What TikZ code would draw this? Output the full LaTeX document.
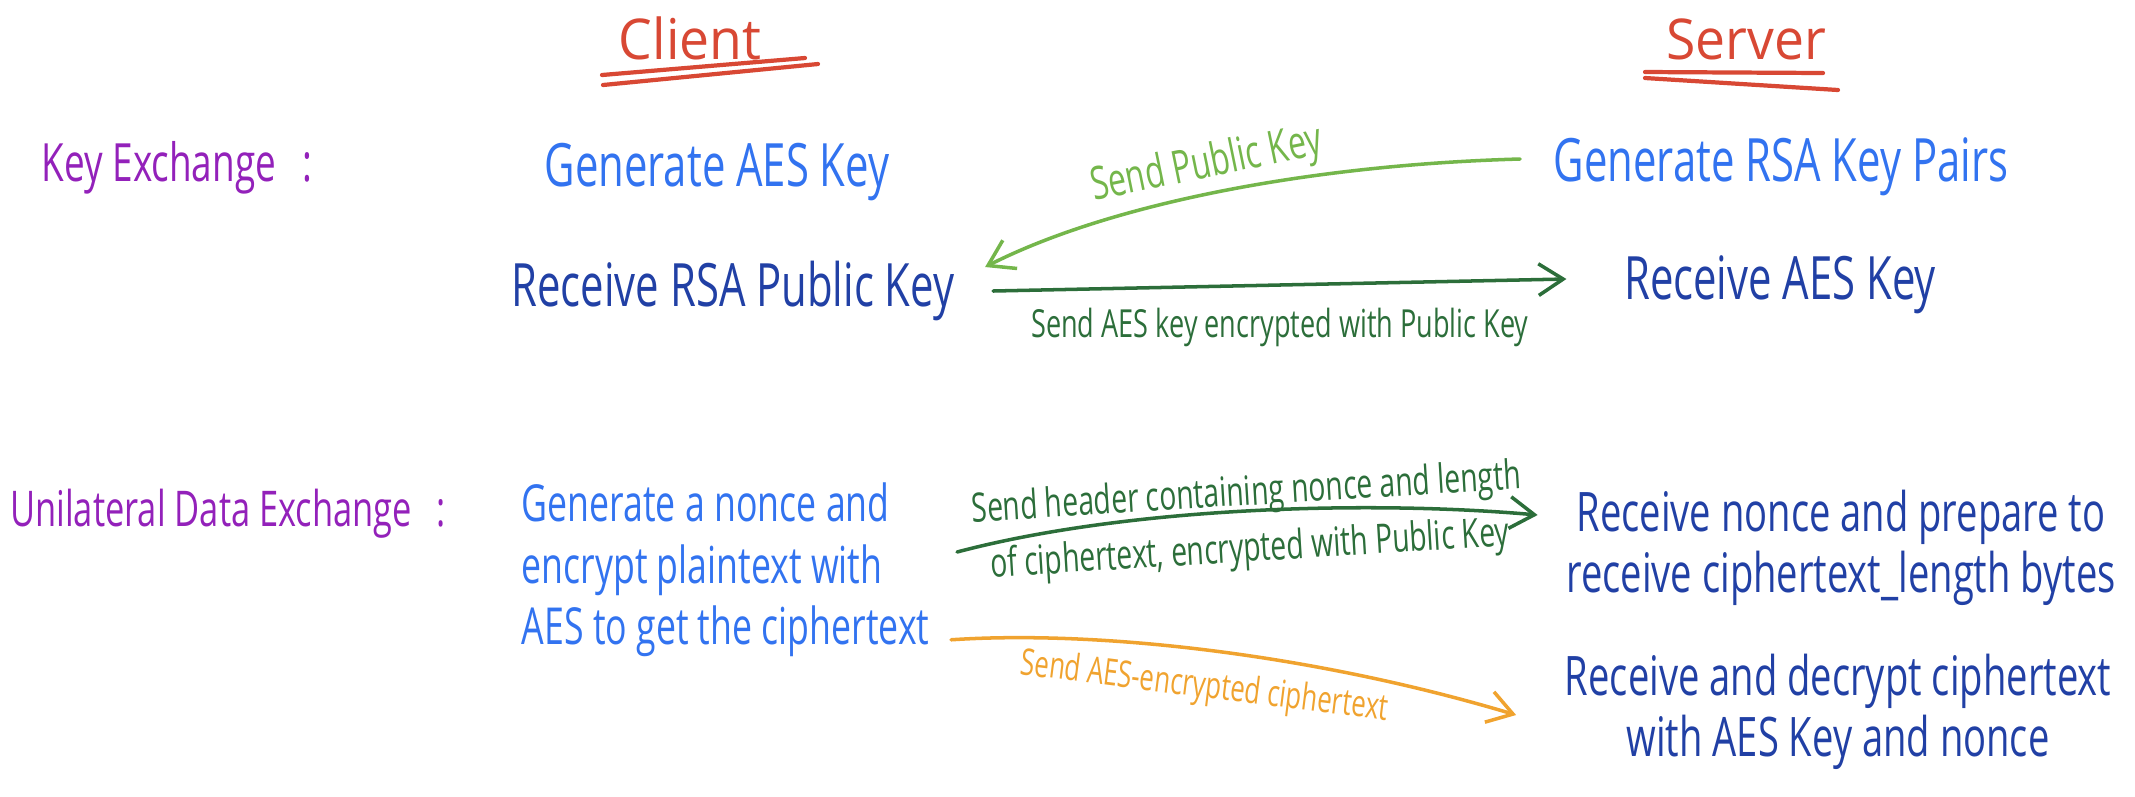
\documentclass[tikz,border=0pt]{standalone}
\usepackage{fontspec}
\setmainfont{Open Sans}[FakeStretch=0.7]
\newfontfamily\headfont{Open Sans}[FakeStretch=0.95]
\usepackage{tikz}
\usetikzlibrary{arrows.meta,positioning,calc}
\definecolor{headred}{RGB}{216,72,52}
\definecolor{rowpurple}{RGB}{147,33,186}
\definecolor{genblue}{RGB}{50,115,240}
\definecolor{recvblue}{RGB}{33,64,165}
\definecolor{pubgreen}{RGB}{116,182,75}
\definecolor{aesgreen}{RGB}{44,110,58}
\definecolor{ctorange}{RGB}{240,163,47}
\tikzset{
  basetext/.style={inner sep=2pt,align=center},
  headnode/.style={basetext,text=headred,font=\headfont\fontsize{16}{19}\selectfont},
  rownode/.style={basetext,text=rowpurple,font=\fontsize{15}{18}\selectfont},
  gennode/.style={basetext,text=genblue,font=\fontsize{17}{20}\selectfont},
  recvnode/.style={basetext,text=recvblue,font=\fontsize{17}{20}\selectfont},
  datanode/.style={basetext,font=\fontsize{15.5}{17.5}\selectfont},
  msgnode/.style={inner sep=1pt,align=center,font=\fontsize{11}{12}\selectfont},
  headrule/.style={draw=headred,line width=1.2pt,line cap=round},
  sendarr/.style={->,>={Straight Barb[length=7pt,width=9pt]},line width=1pt,line cap=round,line join=round}
}

\begin{document}
\begin{tikzpicture}[x=0.01cm,y=-0.01cm]
  \useasboundingbox (0,0) rectangle (2135,796);

  %% HEADINGS
  \node[headnode] (client) at (690,38) {Client};
  \node[headnode] (server) at (1746,39) {Server};
  \draw[headrule] ($(client.center)+(-88,37)$) -- ($(client.center)+(115,20)$);
  \draw[headrule] ($(client.center)+(-87,47)$) -- ($(client.center)+(128,26)$);
  \draw[headrule] ($(server.center)+(-101,33)$) -- ($(server.center)+(77,34)$);
  \draw[headrule] ($(server.center)+(-101,39)$) -- ($(server.center)+(92,51)$);

  %% ROW LABELS
  \node[rownode] (keyx) at (177,168) {Key Exchange\enspace:};
  \node[rownode,font=\fontsize{14}{17}\selectfont] (datax) at (228,514) {Unilateral Data Exchange\enspace:};

  %% KEY EXCHANGE
  \node[gennode] (genaes) at (717,172) {Generate AES Key};
  \node[recvnode] (recvrsa) at (733,291) {Receive RSA Public Key};
  \node[gennode] (genrsa) at (1781,167) {Generate RSA Key Pairs};
  \node[recvnode] (recvaes) at (1780,285) {Receive AES Key};

  %% DATA EXCHANGE
  \node[datanode,text=genblue,align=left,anchor=west,font=\fontsize{14.5}{17.5}\selectfont] (gennonce) at (514,570)
    {Generate a nonce and\\encrypt plaintext with\\AES to get the ciphertext};
  \node[datanode,text=recvblue] (recvnonce) at (1841,548)
    {Receive nonce and prepare to\\receive ciphertext\_length bytes};
  \node[datanode,text=recvblue] (recvdec) at (1838,712)
    {Receive and decrypt ciphertext\\with AES Key and nonce};

  %% CONNECTIONS
  \draw[sendarr,<-,draw=pubgreen] ([shift={(23,-24)}]recvrsa.east)
    .. controls +(122,-62) and +(-215,6) .. ([shift={(-26,-8)}]genrsa.west)
    node[msgnode,pos=0.49,sloped,above=0pt,text=pubgreen,font=\fontsize{13}{15}\selectfont]{Send Public Key};
  \draw[sendarr,draw=aesgreen] ([shift={(31,0)}]recvrsa.east) -- ([shift={(-50,-6)}]recvaes.west)
    node[msgnode,midway,below=5pt,text=aesgreen]{Send AES key encrypted with Public Key};
  \draw[sendarr,draw=aesgreen] ([shift={(20,-18)}]gennonce.east)
    .. controls +(170,-45) and +(-170,-15) .. ([shift={(-21,-33)}]recvnonce.west)
    node[msgnode,pos=0.5,rotate=3.5,yshift=-3.4pt,text=aesgreen,font=\fontsize{11.5}{16}\selectfont]
      {Send header containing nonce and length\\of ciphertext, encrypted with Public Key};
  \draw[sendarr,draw=ctorange] ([shift={(14,-25)}]gennonce.south east)
    .. controls +(150,-10) and +(-200,-60) .. ([shift={(-41,3)}]recvdec.west)
    node[msgnode,pos=0.49,sloped,below=4pt,text=ctorange,font=\fontsize{10.5}{12}\selectfont]{Send AES-encrypted ciphertext};
\end{tikzpicture}
\end{document}
